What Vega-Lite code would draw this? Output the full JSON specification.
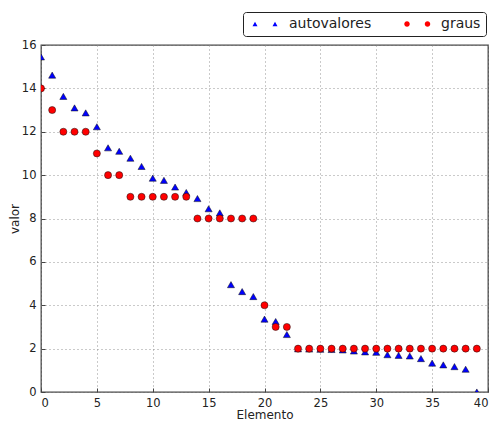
{
  "$schema": "https://vega.github.io/schema/vega-lite/v6.json",
  "width": 447,
  "height": 347,
  "autosize": {"type": "none"},
  "padding": {"left": 41, "top": 45, "right": 6, "bottom": 29},
  "background": "white",
  "config": {
    "view": {"stroke": "#444", "strokeWidth": 1.3},
    "font": "DejaVu Sans",
    "axis": {
      "labelFont": "DejaVu Sans",
      "labelFontSize": 11.5,
      "labelColor": "#222",
      "titleFont": "DejaVu Sans",
      "titleFontSize": 12,
      "titleFontWeight": "normal",
      "titleColor": "#222",
      "domain": false,
      "grid": true,
      "gridColor": "#888",
      "gridDash": [1, 3],
      "gridWidth": 0.9,
      "tickColor": "#444",
      "tickSize": -4,
      "labelPadding": 9
    }
  },
  "data": {
    "values": [
      {"elemento": 0, "valor": 15.45, "serie": "autovalores"},
      {"elemento": 1, "valor": 14.61, "serie": "autovalores"},
      {"elemento": 2, "valor": 13.63, "serie": "autovalores"},
      {"elemento": 3, "valor": 13.1, "serie": "autovalores"},
      {"elemento": 4, "valor": 12.87, "serie": "autovalores"},
      {"elemento": 5, "valor": 12.23, "serie": "autovalores"},
      {"elemento": 6, "valor": 11.26, "serie": "autovalores"},
      {"elemento": 7, "valor": 11.1, "serie": "autovalores"},
      {"elemento": 8, "valor": 10.78, "serie": "autovalores"},
      {"elemento": 9, "valor": 10.4, "serie": "autovalores"},
      {"elemento": 10, "valor": 9.86, "serie": "autovalores"},
      {"elemento": 11, "valor": 9.76, "serie": "autovalores"},
      {"elemento": 12, "valor": 9.45, "serie": "autovalores"},
      {"elemento": 13, "valor": 9.2, "serie": "autovalores"},
      {"elemento": 14, "valor": 8.92, "serie": "autovalores"},
      {"elemento": 15, "valor": 8.45, "serie": "autovalores"},
      {"elemento": 16, "valor": 8.26, "serie": "autovalores"},
      {"elemento": 17, "valor": 4.95, "serie": "autovalores"},
      {"elemento": 18, "valor": 4.63, "serie": "autovalores"},
      {"elemento": 19, "valor": 4.4, "serie": "autovalores"},
      {"elemento": 20, "valor": 3.36, "serie": "autovalores"},
      {"elemento": 21, "valor": 3.25, "serie": "autovalores"},
      {"elemento": 22, "valor": 2.65, "serie": "autovalores"},
      {"elemento": 23, "valor": 1.99, "serie": "autovalores"},
      {"elemento": 24, "valor": 1.98, "serie": "autovalores"},
      {"elemento": 25, "valor": 1.97, "serie": "autovalores"},
      {"elemento": 26, "valor": 1.96, "serie": "autovalores"},
      {"elemento": 27, "valor": 1.94, "serie": "autovalores"},
      {"elemento": 28, "valor": 1.89, "serie": "autovalores"},
      {"elemento": 29, "valor": 1.85, "serie": "autovalores"},
      {"elemento": 30, "valor": 1.83, "serie": "autovalores"},
      {"elemento": 31, "valor": 1.72, "serie": "autovalores"},
      {"elemento": 32, "valor": 1.69, "serie": "autovalores"},
      {"elemento": 33, "valor": 1.66, "serie": "autovalores"},
      {"elemento": 34, "valor": 1.54, "serie": "autovalores"},
      {"elemento": 35, "valor": 1.33, "serie": "autovalores"},
      {"elemento": 36, "valor": 1.25, "serie": "autovalores"},
      {"elemento": 37, "valor": 1.17, "serie": "autovalores"},
      {"elemento": 38, "valor": 1.05, "serie": "autovalores"},
      {"elemento": 39, "valor": 0.0, "serie": "autovalores"},
      {"elemento": 0, "valor": 14, "serie": "graus"},
      {"elemento": 1, "valor": 13, "serie": "graus"},
      {"elemento": 2, "valor": 12, "serie": "graus"},
      {"elemento": 3, "valor": 12, "serie": "graus"},
      {"elemento": 4, "valor": 12, "serie": "graus"},
      {"elemento": 5, "valor": 11, "serie": "graus"},
      {"elemento": 6, "valor": 10, "serie": "graus"},
      {"elemento": 7, "valor": 10, "serie": "graus"},
      {"elemento": 8, "valor": 9, "serie": "graus"},
      {"elemento": 9, "valor": 9, "serie": "graus"},
      {"elemento": 10, "valor": 9, "serie": "graus"},
      {"elemento": 11, "valor": 9, "serie": "graus"},
      {"elemento": 12, "valor": 9, "serie": "graus"},
      {"elemento": 13, "valor": 9, "serie": "graus"},
      {"elemento": 14, "valor": 8, "serie": "graus"},
      {"elemento": 15, "valor": 8, "serie": "graus"},
      {"elemento": 16, "valor": 8, "serie": "graus"},
      {"elemento": 17, "valor": 8, "serie": "graus"},
      {"elemento": 18, "valor": 8, "serie": "graus"},
      {"elemento": 19, "valor": 8, "serie": "graus"},
      {"elemento": 20, "valor": 4, "serie": "graus"},
      {"elemento": 21, "valor": 3, "serie": "graus"},
      {"elemento": 22, "valor": 3, "serie": "graus"},
      {"elemento": 23, "valor": 2, "serie": "graus"},
      {"elemento": 24, "valor": 2, "serie": "graus"},
      {"elemento": 25, "valor": 2, "serie": "graus"},
      {"elemento": 26, "valor": 2, "serie": "graus"},
      {"elemento": 27, "valor": 2, "serie": "graus"},
      {"elemento": 28, "valor": 2, "serie": "graus"},
      {"elemento": 29, "valor": 2, "serie": "graus"},
      {"elemento": 30, "valor": 2, "serie": "graus"},
      {"elemento": 31, "valor": 2, "serie": "graus"},
      {"elemento": 32, "valor": 2, "serie": "graus"},
      {"elemento": 33, "valor": 2, "serie": "graus"},
      {"elemento": 34, "valor": 2, "serie": "graus"},
      {"elemento": 35, "valor": 2, "serie": "graus"},
      {"elemento": 36, "valor": 2, "serie": "graus"},
      {"elemento": 37, "valor": 2, "serie": "graus"},
      {"elemento": 38, "valor": 2, "serie": "graus"},
      {"elemento": 39, "valor": 2, "serie": "graus"}
    ]
  },
  "encoding": {
    "x": {
      "field": "elemento",
      "type": "quantitative",
      "scale": {"domain": [0, 40], "nice": false, "zero": false},
      "axis": {"title": "Elemento", "values": [0, 5, 10, 15, 20, 25, 30, 35, 40], "titlePadding": 1}
    },
    "y": {
      "field": "valor",
      "type": "quantitative",
      "scale": {"domain": [0, 16], "nice": false, "zero": false},
      "axis": {"title": "valor", "values": [0, 2, 4, 6, 8, 10, 12, 14, 16], "titlePadding": 0}
    },
    "color": {
      "field": "serie",
      "type": "nominal",
      "scale": {"domain": ["autovalores", "graus"], "range": ["#0000ff", "#ff0000"]},
      "legend": {
        "title": null,
        "orient": "none",
        "legendX": 202,
        "legendY": -33,
        "direction": "horizontal",
        "fillColor": "white",
        "strokeColor": "#222",
        "cornerRadius": 3,
        "padding": 5,
        "labelFont": "DejaVu Sans",
        "labelFontSize": 14,
        "labelColor": "#222",
        "labelOffset": 27,
        "columnPadding": 28,
        "symbolSize": 25,
        "symbolStrokeWidth": 0,
        "symbolOpacity": 1,
        "symbolType": {"expr": "datum.value === 'graus' ? 'M1.1,0A1.1,1.1,0,1,1,-1.1,0A1.1,1.1,0,1,1,1.1,0ZM9.3,0A1.1,1.1,0,1,1,7.1,0A1.1,1.1,0,1,1,9.3,0Z' : 'M0,-0.866L-1,0.866L1,0.866ZM8,-0.866L7,0.866L9,0.866Z'"}
      }
    },
    "size": {"value": 50}
  },
  "layer": [
    {
      "transform": [{"filter": "datum.serie === 'autovalores'"}],
      "mark": {"type": "point", "shape": "triangle-up", "filled": true, "opacity": 1, "stroke": "#111", "strokeWidth": 0.5, "clip": true}
    },
    {
      "transform": [{"filter": "datum.serie === 'graus'"}],
      "mark": {"type": "point", "shape": "circle", "filled": true, "opacity": 1, "stroke": "#111", "strokeWidth": 0.5, "clip": true}
    }
  ]
}
